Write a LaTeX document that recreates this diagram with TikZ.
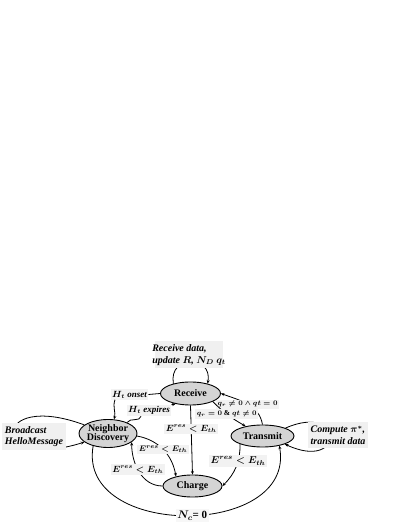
\documentclass[tikz,border=0pt]{standalone}
\usepackage{fontspec}
\setmainfont{Liberation Serif}
\usetikzlibrary{shapes.geometric,arrows.meta}
\tikzset{
	state/.style={shape=ellipse, draw, line width=0.9pt, fill=black!17},
	statetext/.style={anchor=center, align=center, inner sep=0pt, font=\fontsize{10}{10.5}\selectfont\bfseries},
	note/.style={shape=rectangle, fill=black!6},
	notetext/.style={anchor=center, align=left, inner sep=0pt, font=\fontsize{10}{11.5}\selectfont\bfseries\itshape\boldmath},
	cond/.style={shape=rectangle, fill=black!5, inner sep=1.5pt, font=\fontsize{9}{10}\selectfont\bfseries\itshape\boldmath},
	wire/.style={line width=0.8pt},
}
\begin{document}
\begin{tikzpicture}[x=1pt, y=1pt, >={Stealth[length=3.5pt,width=3pt]}]
	\useasboundingbox (0,0) rectangle (407,527);
	% States:
	\node[state, minimum width=60pt, minimum height=23pt] (rec) at (190.5,133.5){} node[statetext] at (190.5,133.5){Receive};
	\node[state, minimum width=58pt, minimum height=28pt] (nd) at (108,93.5){} node[statetext] at (108,93.5){Neighbor\\[-1pt]Discovery};
	\node[state, minimum width=63pt, minimum height=22pt] (tx) at (262.5,91){} node[statetext] at (262.5,91){Transmit};
	\node[state, minimum width=59pt, minimum height=22pt] (chg) at (192.5,41){} node[statetext] at (192.5,41){Charge};
	% Self loops behind the notes:
	\draw[wire,->] (rec.150) to[out=100, in=80, looseness=2.2] (rec.30);
	\draw[wire,->] (nd.160) .. controls (-10,137) and (-10,55) .. (nd.200);
	\draw[wire,->] (tx.19) .. controls (345,125) and (345,55) .. (tx.-20);
	\node[note, minimum width=68pt, minimum height=27pt] (recbox) at (189,172){} node[notetext] at (189,172){Receive data,\\update $R$, $N_D$ $q_t$};
	\node[note, minimum width=64pt, minimum height=27pt] (bcbox) at (34,90.5){} node[notetext] at (34,90.5){Broadcast\\HelloMessage};
	\node[note, minimum width=60pt, minimum height=26pt] (cpbox) at (338,92){} node[notetext] at (338,92){Compute $\pi^*$,\\transmit data};
	% Transitions:
	\node[cond] (onset) at (129.5,132.5){$H_t$ onset};
	\draw[wire] (rec.west) -- (onset.east);
	\draw[wire,->] (onset.200) to[out=-110, in=75] (nd.67);
	\node[cond] (expires) at (149,116.5){$H_t$ expires};
	\draw[wire] (nd.30) to[out=60, in=-100] ([xshift=-8pt]expires.south);
	\draw[wire,->] (expires.north east) -- (rec.215);
	\draw[wire,->] (rec.south) -- node[cond, pos=0.34]{$E^{res} < E_{th}$} (chg.north);
	\draw[wire,->] (nd.-5) to[out=-10, in=100] node[cond, pos=0.5, font=\fontsize{8}{9}\selectfont\boldmath]{$E^{res} < E_{th}$} (chg.150);
	\draw[wire,->] (chg.west) to[out=180, in=-90] node[cond, pos=0.55, font=\fontsize{9}{10}\selectfont\boldmath]{$E^{res} < E_{th}$} (nd.-20);
	\draw[wire,->] (tx.200) to[out=-90, in=45] node[cond, pos=0.35, font=\fontsize{10}{11}\selectfont\boldmath]{$E^{res} < E_{th}$} (chg.east);
	\draw[wire,->] (tx.north) to[out=100, in=-20] node[cond, pos=0.5, font=\fontsize{7.5}{8}\selectfont\boldmath]{$q_r \neq 0 \wedge qt = 0$} (rec.east);
	\draw[wire,->] (rec.-20) to[out=-45, in=150] node[cond, pos=0.45, font=\fontsize{7.5}{8}\selectfont\boldmath]{$q_r = 0\ \&\ qt \neq 0$} (tx.150);
	\draw[wire,->] (nd.220) to[out=-100, in=-80, looseness=1.3] node[cond, pos=0.52, fill=black!3, font=\fontsize{11}{12}\selectfont\boldmath]{$N_c$\textbf{= 0}} (tx.-30);
\end{tikzpicture}
\end{document}
